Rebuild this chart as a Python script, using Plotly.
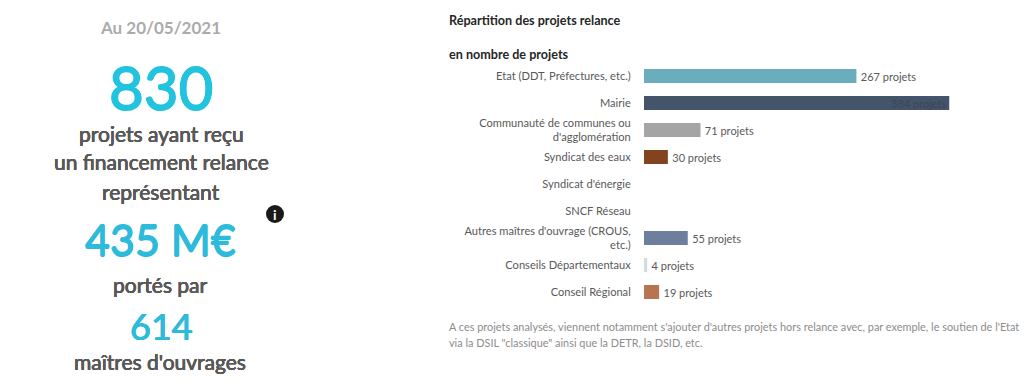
import plotly.graph_objects as go

categories = ["Etat (DDT, Préfectures, etc.)", "Mairie", "Communauté de communes ou<br>d'agglomération",
              "Syndicat des eaux", "Syndicat d'énergie", "SNCF Réseau",
              "Autres maîtres d'ouvrage (CROUS,<br>etc.)", "Conseils Départementaux", "Conseil Régional"]
values = [267, 384, 71, 30, 0, 0, 55, 4, 19]
colors = ["#6AADBD", "#44546A", "#A5A5A5", "#84431F", "#5B9BD5", "#70AD47", "#6D7F9C", "#D5DADA", "#B8734F"]
labels = [(f"\u2009{v} projets" if v != 384 else f"{v} projets") if v else "" for v in values]
positions = ["inside" if v == 384 else "outside" for v in values]
label_colors = ["#3A4656" if v == 384 else "#595959" for v in values]

W, H = 1024, 385
FONT = "Lato, 'Open Sans', sans-serif"

fig = go.Figure(go.Bar(
    y=categories, x=values, orientation="h", marker=dict(color=colors, line_width=0),
    width=0.52, text=labels, textposition=positions, insidetextanchor="end", constraintext="none",
    textfont=dict(family=FONT, size=11, color=label_colors), outsidetextfont=dict(family=FONT, size=11, color=label_colors),
    insidetextfont=dict(family=FONT, size=11, color=label_colors), cliponaxis=False, hoverinfo="skip"))

fig.update_layout(
    width=W, height=H, margin=dict(l=0, r=0, t=0, b=0), paper_bgcolor="white", plot_bgcolor="white",
    showlegend=False, font=dict(family=FONT, color="#595959"),
    xaxis=dict(domain=[644/W, 949.5/W], range=[0, 384], visible=False),
    yaxis=dict(domain=[1-305.5/H, 1-62.5/H], autorange="reversed", type="category", anchor="free", position=644/W,
               ticks="outside", ticklen=11, tickcolor="rgba(0,0,0,0)", showline=False, showgrid=False,
               tickfont=dict(family=FONT, size=11.1, color="#595959")),
)

def note(x, y, text, size, color, anchor="center", weight=400, stroke=0):
    shadow = f"{stroke}px 0 0 {color}, -{stroke}px 0 0 {color}, 0 {stroke}px 0 {color}, 0 -{stroke}px 0 {color}" if stroke else "none"
    fig.add_annotation(xref="paper", yref="paper", x=x/W, y=1-y/H, text=text,
                       showarrow=False, xanchor=anchor, yanchor="middle", align=anchor,
                       font=dict(family=FONT, size=size, color=color, weight=weight, shadow=shadow))

note(160, 27, "Au 20/05/2021", 17, "#ABABAB", weight=700)
note(161, 87, "830", 60, "#22C3DF", stroke=0.7)
note(161, 133, "projets ayant reçu", 21, "#595959", stroke=0.2)
note(161, 162, "un financement relance", 21, "#595959", stroke=0.2)
note(161, 192, "représentant", 21, "#595959", stroke=0.2)
note(160, 239, "435 M€", 43, "#2CBBDA", stroke=0.6)
note(160, 284, "portés par", 21, "#595959", stroke=0.2)
note(161, 326, "614", 36, "#2CBBDA", stroke=0.4)
note(160, 361, "maîtres d'ouvrages", 21, "#595959", stroke=0.2)

note(447, 20, "Répartition des projets relance", 12.6, "#262626", "left", weight=700)
note(447, 55, "en nombre de projets", 12.6, "#262626", "left", weight=700)
note(447, 326, "A ces projets analysés, viennent notamment s'ajouter d'autres projets hors relance avec, par exemple, le soutien de l'Etat", 10.9, "#8C8C8C", "left")
note(447, 342, "via la DSIL \"classique\" ainsi que la DETR, la DSID, etc.", 10.9, "#8C8C8C", "left")

fig.add_shape(type="circle", xref="paper", yref="paper", x0=266/W, x1=284/W, y0=1-223/H, y1=1-205/H,
              fillcolor="#1A1A1A", line_width=0)
note(275, 214, "i", 14, "white", weight=700)

fig.write_html("out.html", config={"displayModeBar": False},
               post_script="document.body.style.margin='0';document.body.style.overflow='hidden';")
